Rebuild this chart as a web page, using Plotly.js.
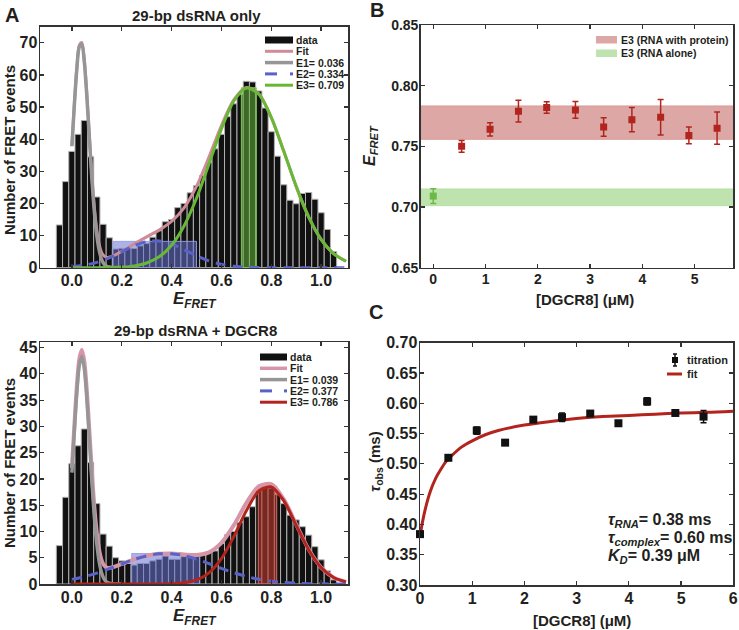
<!DOCTYPE html>
<html><head><meta charset="utf-8">
<script src="https://cdn.plot.ly/plotly-3.0.1.min.js"></script>
<style>html,body{margin:0;padding:0;background:#fff}#chart{width:739px;height:630px}</style>
</head><body><div id="chart"></div>
<script>
// ---------- Panel A (top): 29-bp dsRNA only ----------
const binsA = [-0.05,-0.025,0,0.025,0.05,0.075,0.1,0.125,0.15,0.175,0.2,0.225,0.25,0.275,0.3,0.325,0.35,0.375,0.4,0.425,0.45,0.475,0.5,0.525,0.55,0.575,0.6,0.625,0.65,0.675,0.7,0.725,0.75,0.775,0.8,0.825,0.85,0.875,0.9,0.925,0.95,0.975,1.0,1.025,1.05];
const countsTop = [13.3,26.8,36.2,41.5,45.8,34.5,22,13.5,9.3,5.8,6,6,6,6.8,7.5,9.5,11.5,14.3,15,18.7,20,23.3,25.5,28.7,32.8,37,41.5,47,51,54,58,57.8,55,49.7,42.3,34.7,25.8,21,19.9,23.1,23.4,21.3,17.1,11.9,5];
const fitX = [0,0.01,0.02,0.03,0.04,0.05,0.06,0.07,0.08,0.09,0.1,0.11,0.12,0.13,0.14,0.15,0.16,0.2,0.25,0.3,0.35,0.4,0.45,0.5,0.55,0.6,0.65,0.7,0.75,0.8,0.85,0.9,0.95,1.0,1.05,1.1];
const fitTop = [38.1,51.2,62.5,69.3,70.1,64.6,54.1,41.5,29.1,18.9,11.7,7.1,4.6,3.6,3.2,3.3,3.5,5.1,7.4,9.6,11.7,14.4,18.6,25.3,34.4,44.2,52.3,56.1,54.1,46.8,36.3,25.3,15.8,8.8,4.4,2.0];
const e1X = [0,0.01,0.02,0.03,0.04,0.05,0.06,0.07,0.08,0.09,0.1,0.11,0.12,0.13,0.14,0.16,0.2];
const e1Top = [37.8,50.8,62.0,68.8,69.5,63.8,53.2,40.4,27.9,17.5,10.0,5.2,2.4,1.05,0.41,0.05,0];
const e2TopX = [0,0.05,0.1,0.15,0.2,0.25,0.3,0.35,0.4,0.45,0.5,0.55,0.6,0.65,0.7,0.75,0.8,0.9,1.0,1.1];
const e2Top = [0.31,0.77,1.66,3.09,4.94,6.82,8.12,8.34,7.38,5.64,3.72,2.11,1.04,0.44,0.16,0.05,0.01,0,0,0];
const e3TopX = [0,0.1,0.2,0.25,0.3,0.35,0.4,0.45,0.5,0.55,0.6,0.65,0.7,0.75,0.8,0.85,0.9,0.95,1.0,1.05,1.1];
const e3Top = [0,0,0.2,0.57,1.46,3.38,7.0,13.0,21.6,32.3,43.2,51.9,55.9,54.0,46.8,36.3,25.3,15.8,8.8,4.4,2.0];
const e2BoxTopX = [0.165,0.5], e2BoxTopH = 8.2;
const e3BandTopX = [0.68,0.74], e3BandTopH = 56;
const legendTop = ["data","Fit","E1= 0.036","E2= 0.334","E3= 0.709"];

// ---------- Panel A (bottom): 29-bp dsRNA + DGCR8 ----------
const countsBot = [7.3,16.5,22.9,26.3,29.5,23.1,15.3,9.5,7.2,5,4.4,3.9,3.6,3.9,3.9,4.4,4.7,5.3,4.7,4.7,5.2,5.8,5.6,5.8,6.1,6.3,7.7,9.4,10,11.7,12.8,14.7,17.8,18.5,18.2,17,15.3,13.1,12.2,10.9,9.3,7.1,4.6,2.5,0.8];
const fitBot = [22.1,30.2,37.7,42.9,44.6,42.3,36.7,29.2,21.5,14.7,9.7,6.3,4.4,3.5,3.1,3.06,3.13,3.81,4.67,5.36,5.74,5.82,5.63,5.51,6.02,7.82,11.2,15.4,18.6,19.0,16.15,11.35,6.6,3.16,1.25,0.4];
const e1Bot = [21.2,29.2,36.6,41.7,43.3,40.9,35.2,27.6,19.7,12.8,7.6,4.1,2.0,0.9,0.36,0.05,0];
const e2BotX = [0,0.05,0.1,0.15,0.2,0.25,0.3,0.35,0.4,0.45,0.5,0.55,0.6,0.65,0.7,0.75,0.8,0.85,0.9,0.95,1.0,1.1];
const e2Bot = [0.87,1.39,2.08,2.91,3.81,4.67,5.36,5.74,5.76,5.40,4.74,3.89,2.98,2.14,1.44,0.90,0.53,0.29,0.15,0.07,0.03,0];
const e3BotX = [0,0.1,0.2,0.3,0.4,0.45,0.5,0.55,0.6,0.65,0.7,0.75,0.8,0.85,0.9,0.95,1.0,1.05,1.1];
const e3Bot = [0,0,0,0,0.06,0.23,0.77,2.13,4.84,9.05,13.95,17.7,18.46,15.86,11.2,6.53,3.13,1.24,0.4];
const e2BoxBotX = [0.24,0.513], e2BoxBotH = 5.8;
const e3BandBotX = [0.748,0.822], e3BandBotH = 18.6;
const legendBot = ["data","Fit","E1= 0.039","E2= 0.377","E3= 0.786"];

// ---------- Panel B ----------
const dgcr8B = [0.543,1.087,1.63,2.17,2.72,3.26,3.8,4.35,4.89,5.43];
const e3Protein = [0.750,0.764,0.779,0.782,0.780,0.766,0.772,0.774,0.759,0.765];
const e3ProteinErr = [0.0048,0.0055,0.009,0.0048,0.0069,0.0076,0.01,0.0147,0.0069,0.0133];
const aloneX = [0], e3Alone = [0.709], e3AloneErr = [0.006];
const bandProtein = [0.7558,0.7833], bandAlone = [0.7011,0.7149];
const legendB = ["E3 (RNA with protein)","E3 (RNA alone)"];

// ---------- Panel C ----------
const dgcr8C = [0,0.543,1.087,1.63,2.17,2.72,3.26,3.8,4.35,4.89,5.43];
const tauObs = [0.384,0.510,0.555,0.535,0.573,0.577,0.583,0.567,0.603,0.584,0.578];
const tauErr = [0.003,0.003,0.006,0.003,0.003,0.007,0.003,0.004,0.006,0.003,0.010];
const fitCX = [0,0.05,0.1,0.2,0.3,0.4,0.5,0.6,0.8,1.0,1.25,1.5,2,2.5,3,3.5,4,4.5,5,5.5,6];
const fitCY = [0.380,0.405,0.425,0.455,0.476,0.491,0.504,0.513,0.528,0.538,0.548,0.555,0.564,0.570,0.575,0.578,0.580,0.582,0.584,0.585,0.587];

// ---------- styles ----------
const W = 739, H = 630;
const px = v => v / W, py = v => 1 - v / H;
const FAM = "Liberation Sans, Arial, sans-serif";
const TXT = "#231f20";
const PINK = "rgb(206,140,152)", GRAY = "rgb(150,150,150)", BLUE = "rgb(88,98,200)",
      GREEN = "rgb(104,184,54)", RED = "rgb(178,36,30)";

function box(xs, h, fill, line, xa, ya) {
  return {type:"scatter", mode:"lines", x:[xs[0],xs[0],xs[1],xs[1],xs[0]], y:[0,h,h,0,0],
    fill:"toself", fillcolor:fill, line:{color:line, width:1}, xaxis:xa, yaxis:ya, hoverinfo:"skip"};
}
function curve(x, y, color, width, xa, ya, dash) {
  return {type:"scatter", mode:"lines", x:x, y:y, xaxis:xa, yaxis:ya,
    line:{color:color, width:width, shape:"spline", smoothing:0.8, dash:dash||"solid"}};
}
function bars(x, y, xa, ya) {
  return {type:"bar", x:x, y:y, width:0.025, xaxis:xa, yaxis:ya,
    marker:{color:"#111", line:{color:"#b0b0b0", width:1}}};
}

const traces = [
  bars(binsA, countsTop, "x", "y"),
  box(e2BoxTopX, e2BoxTopH, "rgba(105,115,210,0.55)", "rgba(150,160,230,0.9)", "x", "y"),
  box(e3BandTopX, e3BandTopH, "rgba(100,180,60,0.55)", "rgba(130,205,90,1)", "x", "y"),
  curve(fitX, fitTop, PINK, 3, "x", "y"),
  curve(e1X, e1Top, GRAY, 3.5, "x", "y"),
  curve(e2TopX, e2Top, BLUE, 3, "x", "y", "10px,7px"),
  curve(e3TopX, e3Top, GREEN, 3, "x", "y"),

  bars(binsA, countsBot, "x2", "y2"),
  box(e2BoxBotX, e2BoxBotH, "rgba(105,115,210,0.55)", "rgba(150,160,230,0.9)", "x2", "y2"),
  box(e3BandBotX, e3BandBotH, "rgba(190,55,45,0.6)", "rgba(215,110,100,1)", "x2", "y2"),
  curve(fitX, fitBot, "rgb(214,150,168)", 4, "x2", "y2"),
  curve(e1X, e1Bot, GRAY, 3.5, "x2", "y2"),
  curve(e2BotX, e2Bot, BLUE, 3, "x2", "y2", "10px,7px"),
  curve(e3BotX, e3Bot, RED, 3, "x2", "y2"),

  {type:"scatter", mode:"markers", x:dgcr8B, y:e3Protein, xaxis:"x3", yaxis:"y3",
   marker:{symbol:"square", size:7, color:RED},
   error_y:{type:"data", array:e3ProteinErr, color:RED, thickness:1.5, width:3}},
  {type:"scatter", mode:"markers", x:aloneX, y:e3Alone, xaxis:"x3", yaxis:"y3", cliponaxis:false,
   marker:{symbol:"square", size:7, color:"rgb(110,185,70)"},
   error_y:{type:"data", array:e3AloneErr, color:"rgb(110,185,70)", thickness:1.5, width:3}},

  {type:"scatter", mode:"lines", x:fitCX, y:fitCY, xaxis:"x4", yaxis:"y4",
   line:{color:RED, width:3, shape:"spline", smoothing:0.8}},
  {type:"scatter", mode:"markers", x:dgcr8C, y:tauObs, xaxis:"x4", yaxis:"y4", cliponaxis:false,
   marker:{symbol:"square", size:8, color:"#111"},
   error_y:{type:"data", array:tauErr, color:"#111", thickness:1.5, width:3}}
];

function axis(extra, fsize) {
  return Object.assign({
    showline:true, linecolor:"#333", linewidth:1.5, mirror:"ticks",
    ticks:"inside", ticklen:4, tickwidth:1.2, tickcolor:"#333",
    showgrid:false, zeroline:false, fixedrange:true, ticklabelstandoff:-2,
    tickfont:{family:FAM, size:fsize, color:TXT, weight:"bold"}
  }, extra);
}

const layout = {
  width:W, height:H, margin:{l:0,r:0,t:0,b:0}, showlegend:false,
  paper_bgcolor:"#fff", plot_bgcolor:"#fff", bargap:0,
  xaxis: axis({domain:[px(40),px(348)], range:[-0.128,1.108], tick0:0, dtick:0.2, tickformat:".1f", anchor:"y"}, 16),
  yaxis: axis({domain:[py(267.7),py(26.7)], range:[0,75], dtick:10, anchor:"x"}, 16),
  xaxis2: axis({domain:[px(40),px(348)], range:[-0.128,1.108], tick0:0, dtick:0.2, tickformat:".1f", anchor:"y2"}, 16),
  yaxis2: axis({domain:[py(584),py(342.3)], range:[0,46], dtick:5, anchor:"x2"}, 16),
  xaxis3: axis({domain:[px(420.7),px(733.3)], range:[-0.24,5.74], dtick:1, anchor:"y3"}, 14),
  yaxis3: axis({domain:[py(267.7),py(25)], range:[0.65,0.85], dtick:0.05, tickformat:".2f", anchor:"x3"}, 14),
  xaxis4: axis({domain:[px(420),px(733.3)], range:[0,6], dtick:1, anchor:"y4"}, 16),
  yaxis4: axis({domain:[py(585),py(342.7)], range:[0.30,0.70], dtick:0.05, tickformat:".2f", anchor:"x4"}, 16),
  shapes:[], annotations:[]
};

// bands in panel B
layout.shapes.push({type:"rect", layer:"below", xref:"x3 domain", x0:0, x1:1, yref:"y3", y0:bandProtein[0], y1:bandProtein[1],
  fillcolor:"rgba(185,80,75,0.5)", line:{color:"rgba(215,150,145,0.9)", width:1}});
layout.shapes.push({type:"rect", layer:"below", xref:"x3 domain", x0:0, x1:1, yref:"y3", y0:bandAlone[0], y1:bandAlone[1],
  fillcolor:"rgba(125,200,95,0.5)", line:{color:"rgba(180,225,160,0.9)", width:1}});

function txt(text, x, y, size, o) {
  layout.annotations.push(Object.assign({text:text, x:px(x), y:py(y), xref:"paper", yref:"paper",
    showarrow:false, xanchor:"center", yanchor:"middle", borderpad:0,
    font:{family:FAM, size:size, color:TXT, weight:"bold"}}, o||{}));
}
function pline(x0, x1, y, color, w, dash) {
  layout.shapes.push({type:"line", xref:"paper", yref:"paper", x0:px(x0), x1:px(x1), y0:py(y), y1:py(y),
    line:{color:color, width:w, dash:dash||"solid"}});
}
function prect(x0, x1, y0, y1, color) {
  layout.shapes.push({type:"rect", xref:"paper", yref:"paper", x0:px(x0), x1:px(x1), y0:py(y1), y1:py(y0),
    fillcolor:color, line:{width:0}});
}

// panel letters & titles
txt("A", 12, 15, 20);
txt("B", 377, 10, 20);
txt("C", 376, 312, 20);
txt("29-bp dsRNA only", 196, 15, 15);
txt("29-bp dsRNA + DGCR8", 195, 330, 15);

// axis titles
txt("Number of FRET events", 9, 150, 15, {textangle:-90});
txt("Number of FRET events", 9, 463, 15, {textangle:-90});
txt("<i>E</i><sub><i>FRET</i></sub>", 195, 300, 17);
txt("<i>E</i><sub><i>FRET</i></sub>", 195, 617, 17);
txt("<i>E</i><sub><i>FRET</i></sub>", 370, 146, 16, {textangle:-90});
txt("[DGCR8] (μM)", 585, 299, 15);
txt("<i>τ</i><sub>obs</sub> (ms)", 376, 462, 15, {textangle:-90});
txt("[DGCR8] (μM)", 582, 620, 15);

// legend A top
const rowsT = [40, 51.3, 62.6, 73.9, 85.2];
prect(265, 293, 36.5, 43.5, "#111");
pline(265, 293, rowsT[1], PINK, 3);
pline(265, 293, rowsT[2], GRAY, 3.5);
pline(265, 277, rowsT[3], BLUE, 3);
pline(290, 293, rowsT[3], BLUE, 3);
pline(265, 293, rowsT[4], GREEN, 3);
legendTop.forEach((s, i) => txt(s, 295, rowsT[i], 10.5, {xanchor:"left"}));

// legend A bottom
const rowsB = [357, 368.3, 379.6, 390.9, 402.2];
prect(260, 287, 353.5, 360.5, "#111");
pline(260, 287, rowsB[1], "rgb(214,150,168)", 3.5);
pline(260, 287, rowsB[2], GRAY, 3.5);
pline(260, 272, rowsB[3], BLUE, 3);
pline(284, 287, rowsB[3], BLUE, 3);
pline(260, 287, rowsB[4], RED, 3);
legendBot.forEach((s, i) => txt(s, 289, rowsB[i], 10.5, {xanchor:"left"}));

// legend B
prect(596, 617, 36, 43.5, "rgba(185,80,75,0.5)");
prect(596, 617, 49.5, 57, "rgba(125,200,95,0.5)");
txt(legendB[0], 620, 40, 10.5, {xanchor:"left"});
txt(legendB[1], 620, 53, 10.5, {xanchor:"left"});

// legend C
prect(672, 678, 357, 363, "#111");
layout.shapes.push({type:"line", xref:"paper", yref:"paper", x0:px(675), x1:px(675), y0:py(354), y1:py(366), line:{color:"#111", width:1.5}});
pline(673, 677, 354, "#111", 1.5);
pline(673, 677, 366, "#111", 1.5);
txt("titration", 686, 360, 11, {xanchor:"left"});
pline(667, 682, 374, RED, 3);
txt("fit", 686, 374, 11, {xanchor:"left"});

// panel C fit parameters
txt("<i>τ</i><sub><i>RNA</i></sub>= 0.38 ms", 607, 520, 16, {xanchor:"left"});
txt("<i>τ</i><sub><i>complex</i></sub>= 0.60 ms", 607, 538, 16, {xanchor:"left"});
txt("<i>K</i><sub><i>D</i></sub>= 0.39 μM", 607, 556, 16, {xanchor:"left"});

Plotly.newPlot("chart", traces, layout, {displayModeBar:false, staticPlot:true});
</script>
</body></html>
